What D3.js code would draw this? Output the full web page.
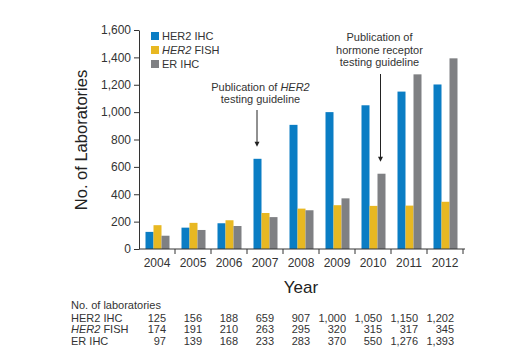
<!DOCTYPE html>
<html>
<head>
<meta charset="utf-8">
<script src="https://cdn.jsdelivr.net/npm/d3@7"></script>
<style>
  body { margin: 0; background: #fff; }
  svg { font-family: "Liberation Sans", Arial, sans-serif; }
  .axis path, .axis line { stroke: #333; }
  .axis text { fill: #333; font-size: 12px; }
</style>
</head>
<body>
<div id="chart-area"></div>
<script>
var years = ["2004", "2005", "2006", "2007", "2008", "2009", "2010", "2011", "2012"];
var her2Ihc = [125, 156, 188, 659, 907, 1000, 1050, 1150, 1202];
var her2Fish = [174, 191, 210, 263, 295, 320, 315, 317, 345];
var erIhc = [97, 139, 168, 233, 283, 370, 550, 1276, 1393];
var yTicks = [0, 200, 400, 600, 800, 1000, 1200, 1400, 1600];

var seriesNames = ["HER2 IHC", "HER2 FISH", "ER IHC"];
var colors = ["#0a7dc4", "#e8b822", "#7f8083"];
var seriesValues = [her2Ihc, her2Fish, erIhc];

var margin = { left: 139, right: 55, top: 30, bottom: 115 };
var width = 518 - margin.left - margin.right,
    height = 364 - margin.top - margin.bottom;

var svg = d3.select("#chart-area")
    .append("svg")
        .attr("width", 518)
        .attr("height", 364);

var g = svg.append("g")
    .attr("transform", "translate(" + margin.left + ", " + margin.top + ")");

// Scales
var x = d3.scaleBand()
    .domain(years)
    .range([0, 324]);

var x1 = d3.scaleBand()
    .domain(d3.range(3))
    .range([6.5, x.bandwidth() - 5.5]);

var y = d3.scaleLinear()
    .domain([0, 1600])
    .range([height, 0]);

// Bars
var groups = g.selectAll(".year")
    .data(years)
    .enter().append("g")
        .attr("transform", function(d){ return "translate(" + x(d) + ",0)"; });

groups.selectAll("rect")
    .data(function(d, i){ return seriesValues.map(function(s, k){ return { k: k, v: s[i] }; }); })
    .enter().append("rect")
        .attr("x", function(d){ return x1(d.k); })
        .attr("width", x1.bandwidth())
        .attr("y", function(d){ return y(d.v); })
        .attr("height", function(d){ return height - y(d.v); })
        .attr("fill", function(d){ return colors[d.k]; });

// Y Axis
var yAxisCall = d3.axisLeft(y)
    .tickValues(yTicks)
    .tickSize(5)
    .tickSizeOuter(0)
    .tickFormat(d3.format(","));
g.append("g")
    .attr("class", "y axis")
    .call(yAxisCall);

// X Axis (ticks at band boundaries)
var xAxis = g.append("g")
    .attr("class", "x axis")
    .attr("transform", "translate(0," + height + ")");
xAxis.append("line")
    .attr("x1", 0).attr("x2", x.range()[1] + 2)
    .attr("stroke", "#333");
xAxis.selectAll(".bt")
    .data(years)
    .enter().append("line")
        .attr("x1", function(d){ return x(d) + x.bandwidth(); })
        .attr("x2", function(d){ return x(d) + x.bandwidth(); })
        .attr("y1", 0).attr("y2", 5)
        .attr("stroke", "#333");
xAxis.selectAll(".yl")
    .data(years)
    .enter().append("text")
        .attr("x", function(d){ return x(d) + x.bandwidth() / 2; })
        .attr("y", 18)
        .attr("text-anchor", "middle")
        .text(function(d){ return d; });

// Axis titles
svg.append("text")
    .attr("transform", "translate(87," + 140 + ") rotate(-90)")
    .attr("text-anchor", "middle")
    .attr("font-size", "16.5px")
    .attr("fill", "#222")
    .text("No. of Laboratories");

svg.append("text")
    .attr("x", margin.left + 162)
    .attr("y", 293)
    .attr("text-anchor", "middle")
    .attr("font-size", "17px")
    .attr("fill", "#222")
    .text("Year");

// Legend
var legend = svg.append("g")
    .attr("transform", "translate(151,32)");
seriesNames.forEach(function(name, i){
    var row = legend.append("g").attr("transform", "translate(0," + (i * 14) + ")");
    row.append("rect")
        .attr("width", 8).attr("height", 8)
        .attr("fill", colors[i]);
    var t = row.append("text")
        .attr("x", 11).attr("y", 8)
        .attr("font-size", "11px")
        .attr("fill", "#333");
    if (name.indexOf("HER2 ") === 0 && i === 1) {
        t.append("tspan").attr("font-style", "italic").text("HER2");
        t.append("tspan").text(" FISH");
    } else {
        t.text(name);
    }
});

// Annotations
function arrow(xPos, y1, y2) {
    svg.append("line")
        .attr("x1", xPos).attr("x2", xPos)
        .attr("y1", y1).attr("y2", y2 - 4)
        .attr("stroke", "#222").attr("stroke-width", 1);
    svg.append("path")
        .attr("d", "M" + (xPos - 2.5) + "," + (y2 - 5) + "L" + (xPos + 2.5) + "," + (y2 - 5) + "L" + xPos + "," + y2 + "Z")
        .attr("fill", "#222");
}

var a1x = margin.left + x("2007") + x1(0) + x1.bandwidth() / 2;
var n1 = svg.append("text")
    .attr("x", a1x + 3).attr("y", 91)
    .attr("text-anchor", "middle")
    .attr("font-size", "11px").attr("fill", "#333");
n1.append("tspan").text("Publication of ");
n1.append("tspan").attr("font-style", "italic").text("HER2");
svg.append("text")
    .attr("x", a1x + 3).attr("y", 103)
    .attr("text-anchor", "middle")
    .attr("font-size", "11px").attr("fill", "#333")
    .text("testing guideline");
arrow(a1x - 0.5, 110, y(her2Ihc[3]) + margin.top - 12);

var a2x = margin.left + x("2010") + x1(2) + x1.bandwidth() / 2;
["Publication of", "hormone receptor", "testing guideline"].forEach(function(s, i){
    svg.append("text")
        .attr("x", a2x - 2).attr("y", 41 + i * 12.5)
        .attr("text-anchor", "middle")
        .attr("font-size", "11px").attr("fill", "#333")
        .text(s);
});
arrow(a2x - 1, 74, y(erIhc[6]) + margin.top - 12);

// Table
var fmt = d3.format(",");
svg.append("text")
    .attr("x", 71).attr("y", 309)
    .attr("font-size", "11px").attr("fill", "#333")
    .text("No. of laboratories");
seriesNames.forEach(function(name, i){
    var yy = 321.5 + i * 11.8;
    var t = svg.append("text")
        .attr("x", 71).attr("y", yy)
        .attr("font-size", "11px").attr("fill", "#333");
    if (i === 1) {
        t.append("tspan").attr("font-style", "italic").text("HER2");
        t.append("tspan").text(" FISH");
    } else {
        t.text(name);
    }
    svg.selectAll(null)
        .data(seriesValues[i])
        .enter().append("text")
            .attr("x", function(d, j){ return margin.left + x(years[j]) + x.bandwidth() - 9; })
            .attr("y", yy)
            .attr("text-anchor", "end")
            .attr("font-size", "11px").attr("fill", "#333")
            .text(function(d){ return fmt(d); });
});
</script>
</body>
</html>
